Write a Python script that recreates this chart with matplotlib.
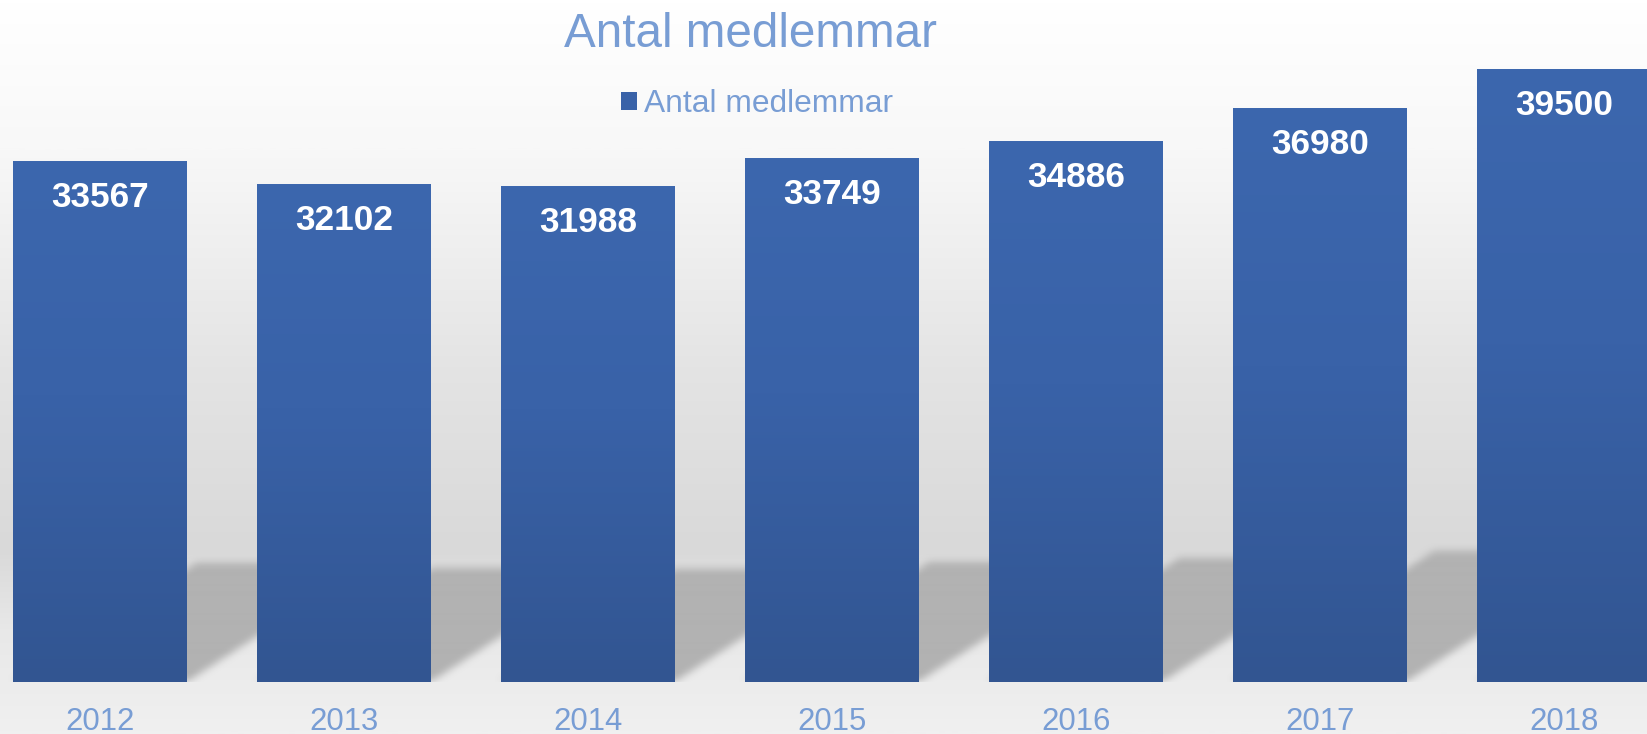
import numpy as np
import matplotlib
matplotlib.use("Agg")
import matplotlib.pyplot as plt
from matplotlib.colors import LinearSegmentedColormap, to_rgb
from matplotlib.patches import Patch

# data
years = ["2012", "2013", "2014", "2015", "2016", "2017", "2018"]
members = [33567, 32102, 31988, 33749, 34886, 36980, 39500]
title = "Antal medlemmar"

plt.rcParams["font.family"] = ["Liberation Sans", "DejaVu Sans"]

W, H = 1647, 734
fig = plt.figure(figsize=(W / 100, H / 100), dpi=100)

# background gradient (whole figure)
bg = fig.add_axes([0, 0, 1, 1], zorder=-10)
bg.set_axis_off()
stops = [(0.0, "#ffffff"), (0.2, "#f8f8f8"), (0.5, "#e4e4e4"),
         (0.75, "#d9d9d9"), (0.86, "#e8e8e8"), (1.0, "#f0f0f0")]
bg_cmap = LinearSegmentedColormap.from_list("bg", stops)
bg.imshow(np.linspace(0, 1, 400)[:, None], cmap=bg_cmap, aspect="auto",
          extent=[0, 1, 0, 1], origin="upper")
bg.set_xlim(0, 1)
bg.set_ylim(0, 1)

# main axes
ax = fig.add_axes([0, 52 / H, 1, 620 / H])
ax.patch.set_visible(False)
x = np.arange(len(years))
bw = 0.713
ax.set_xlim(-0.41, 6.34)
ax.set_ylim(0, 40000)

# soft shadow behind each bar (sheared copy of bar base, blurred)
nx, ny = 1647, 620
gx = np.linspace(-0.41, 6.34, nx)
gy = np.linspace(40000, 0, ny)
GX, GY = np.meshgrid(gx, gy)
mask = np.zeros((ny, nx))
for xi, v in zip(x, members):
    h = 0.228 * v
    dx = h * 9.8e-5
    shift = GY / h * dx
    inside = (GY >= 0) & (GY <= h) & (GX >= xi - bw / 2 + shift) & (GX <= xi + bw / 2 + shift)
    mask[inside] = 1.0


def box_blur(a, r):
    k = np.ones(2 * r + 1) / (2 * r + 1)
    a = np.apply_along_axis(lambda m: np.convolve(m, k, mode="same"), 0, a)
    a = np.apply_along_axis(lambda m: np.convolve(m, k, mode="same"), 1, a)
    return a


mask = box_blur(box_blur(mask, 4), 4)
shadow = np.zeros((ny, nx, 4))
shadow[..., :3] = to_rgb("#b2b2b2")
shadow[..., 3] = np.clip(mask, 0, 1)
ax.imshow(shadow, extent=[-0.41, 6.34, 0, 40000], aspect="auto",
          origin="upper", zorder=1, interpolation="bilinear")

# bars with vertical gradient
bar_cmap = LinearSegmentedColormap.from_list(
    "bar", [(0.0, "#325591"), (0.55, "#3962a8"), (1.0, "#3c67ae")])
bars = ax.bar(x, members, width=bw, color="#3962a8", zorder=2)
grad = np.linspace(1, 0, 256)[:, None]
for b in bars:
    ax.imshow(grad, cmap=bar_cmap, aspect="auto", origin="upper", zorder=3,
              extent=[b.get_x(), b.get_x() + b.get_width(), 0, b.get_height()])
ax.set_xlim(-0.41, 6.34)
ax.set_ylim(0, 40000)

for xi, v in zip(x, members):
    ax.annotate(str(v), (xi, v), xytext=(0, -36), textcoords="offset pixels",
                ha="center", va="center", color="white", fontsize=25.4,
                fontweight="bold", zorder=5)

ax.set_xticks(x)
ax.set_xticklabels(years, fontsize=22.4, color="#789dd4")
ax.tick_params(axis="x", length=0, pad=18)
ax.set_yticks([])
for s in ax.spines.values():
    s.set_visible(False)

fig.text(750 / W, 1 - 47 / H, title, ha="center", va="baseline",
         fontsize=34.3, color="#789dd4")
fig.legend(handles=[Patch(facecolor="#3962a8", edgecolor="none")], labels=[title],
           loc="center", bbox_to_anchor=(757 / W, 1 - 104 / H), frameon=False,
           fontsize=22.9, labelcolor="#789dd4", handlelength=0.5,
           handleheight=0.5, handletextpad=0.2, borderpad=0, borderaxespad=0)

fig.savefig("out.png", dpi=100)
